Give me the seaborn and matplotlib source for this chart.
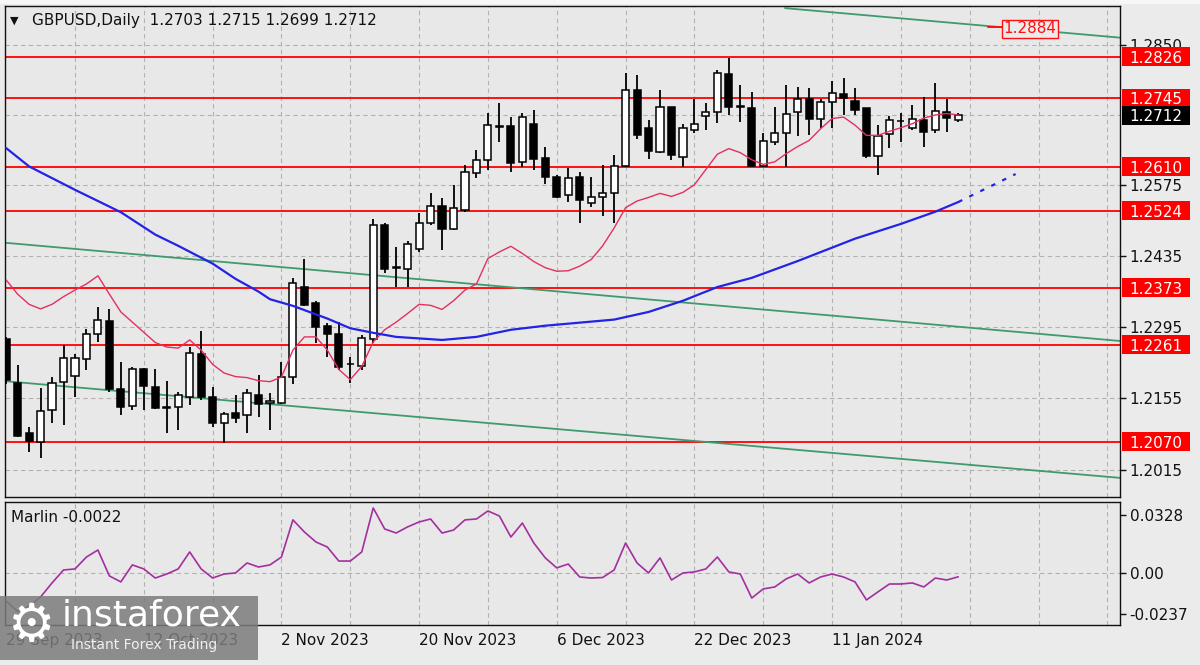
import matplotlib
matplotlib.use("Agg")
import matplotlib.pyplot as plt
import matplotlib.transforms as mtransforms
from matplotlib.patches import Rectangle
import numpy as np
import pandas as pd
import seaborn as sns

sns.set_style("white")
plt.rcParams["font.family"] = ["DejaVu Sans"]

# ---------------- data ----------------
open_ = [1.2272, 1.2185, 1.2087, 1.2069, 1.2132, 1.2187, 1.2199, 1.2233, 1.2282, 1.2307,
         1.2174, 1.2140, 1.2213, 1.2178, 1.2138, 1.2138, 1.2158, 1.2242, 1.2158, 1.2107,
         1.2126, 1.2123, 1.2162, 1.2146, 1.2146, 1.2197, 1.2374, 1.2343, 1.2297, 1.2282,
         1.2223, 1.2219, 1.2272, 1.2496, 1.2413, 1.2409, 1.2449, 1.2500, 1.2533, 1.2488,
         1.2525, 1.2598, 1.2624, 1.2690, 1.2690, 1.2620, 1.2694, 1.2628, 1.2590, 1.2555,
         1.2590, 1.2539, 1.2551, 1.2559, 1.2612, 1.2761, 1.2686, 1.2639, 1.2728, 1.2629,
         1.2683, 1.2710, 1.2718, 1.2793, 1.2730, 1.2726, 1.2612, 1.2659, 1.2677, 1.2718,
         1.2743, 1.2704, 1.2738, 1.2753, 1.2740, 1.2726, 1.2631, 1.2675, 1.2700, 1.2686,
         1.2702, 1.2683, 1.2718, 1.2703]
high = [1.2276, 1.2221, 1.2099, 1.2176, 1.2197, 1.2260, 1.2242, 1.2292, 1.2335, 1.2331,
        1.2227, 1.2217, 1.2215, 1.2213, 1.2189, 1.2168, 1.2256, 1.2288, 1.2178, 1.2128,
        1.2162, 1.2174, 1.2201, 1.2166, 1.2227, 1.2392, 1.2429, 1.2347, 1.2303, 1.2305,
        1.2236, 1.2280, 1.2508, 1.2500, 1.2453, 1.2464, 1.2519, 1.2559, 1.2549, 1.2574,
        1.2614, 1.2643, 1.2716, 1.2736, 1.2708, 1.2716, 1.2722, 1.2649, 1.2594, 1.2608,
        1.2600, 1.2590, 1.2614, 1.2633, 1.2795, 1.2791, 1.2702, 1.2761, 1.2728, 1.2694,
        1.2743, 1.2736, 1.2800, 1.2824, 1.2771, 1.2757, 1.2677, 1.2728, 1.2771, 1.2767,
        1.2765, 1.2743, 1.2779, 1.2785, 1.2765, 1.2726, 1.2692, 1.2710, 1.2716, 1.2732,
        1.2747, 1.2775, 1.2743, 1.2715]
low = [1.2183, 1.2079, 1.2050, 1.2038, 1.2107, 1.2103, 1.2158, 1.2211, 1.2266, 1.2168,
       1.2123, 1.2132, 1.2132, 1.2134, 1.2087, 1.2093, 1.2142, 1.2152, 1.2099, 1.2068,
       1.2107, 1.2087, 1.2119, 1.2093, 1.2144, 1.2183, 1.2337, 1.2264, 1.2236, 1.2211,
       1.2185, 1.2211, 1.2264, 1.2402, 1.2374, 1.2374, 1.2443, 1.2496, 1.2447, 1.2486,
       1.2521, 1.2588, 1.2604, 1.2659, 1.2600, 1.2610, 1.2604, 1.2576, 1.2549, 1.2541,
       1.2500, 1.2531, 1.2514, 1.2500, 1.2610, 1.2665, 1.2626, 1.2637, 1.2624, 1.2610,
       1.2677, 1.2683, 1.2696, 1.2712, 1.2698, 1.2610, 1.2610, 1.2653, 1.2610, 1.2671,
       1.2673, 1.2686, 1.2686, 1.2712, 1.2712, 1.2628, 1.2594, 1.2647, 1.2659, 1.2683,
       1.2649, 1.2677, 1.2679, 1.2699]
close = [1.2191, 1.2081, 1.2071, 1.2130, 1.2185, 1.2235, 1.2235, 1.2282, 1.2309, 1.2174,
         1.2138, 1.2213, 1.2180, 1.2136, 1.2137, 1.2162, 1.2244, 1.2158, 1.2107, 1.2124,
         1.2117, 1.2166, 1.2144, 1.2150, 1.2197, 1.2382, 1.2339, 1.2295, 1.2282, 1.2217,
         1.2222, 1.2274, 1.2496, 1.2409, 1.2411, 1.2459, 1.2500, 1.2533, 1.2488, 1.2529,
         1.2600, 1.2624, 1.2692, 1.2688, 1.2618, 1.2708, 1.2626, 1.2590, 1.2551, 1.2588,
         1.2545, 1.2551, 1.2559, 1.2612, 1.2761, 1.2673, 1.2641, 1.2728, 1.2633, 1.2686,
         1.2694, 1.2718, 1.2795, 1.2728, 1.2728, 1.2612, 1.2661, 1.2677, 1.2714, 1.2743,
         1.2704, 1.2738, 1.2755, 1.2745, 1.2722, 1.2631, 1.2671, 1.2702, 1.2701, 1.2704,
         1.2679, 1.2720, 1.2706, 1.2712]

# short moving average (pink), one value per bar
pink_ma = [1.2388, 1.2360, 1.2340, 1.2331, 1.2340, 1.2355, 1.2368, 1.2380, 1.2396, 1.2360,
           1.2325, 1.2305, 1.2285, 1.2265, 1.2256, 1.2254, 1.2270, 1.2250, 1.2222, 1.2205,
           1.2198, 1.2196, 1.2190, 1.2188, 1.2197, 1.2250, 1.2276, 1.2276, 1.2250, 1.2212,
           1.2192, 1.2218, 1.2266, 1.2290, 1.2305, 1.2322, 1.2340, 1.2338, 1.2330, 1.2347,
           1.2368, 1.2380, 1.2430, 1.2443, 1.2454, 1.2440, 1.2424, 1.2412, 1.2405, 1.2406,
           1.2415, 1.2428, 1.2455, 1.2490, 1.2530, 1.2543, 1.2550, 1.2558, 1.2552, 1.2560,
           1.2575, 1.2605, 1.2635, 1.2646, 1.2638, 1.2624, 1.2615, 1.2620, 1.2636, 1.2650,
           1.2662, 1.2685, 1.2705, 1.2708, 1.2692, 1.2672, 1.2672, 1.2680, 1.2687, 1.2695,
           1.2706, 1.2712, 1.2715, 1.2712]

# long moving average (blue), read at selected bars
blue_bar = [0, 2, 6, 10, 13, 15, 18, 20, 22, 23, 25, 28, 30, 32, 34, 38, 41, 44, 47, 53,
            56, 59, 62, 65, 69, 74, 78, 81, 83]
blue_ma = [1.2647, 1.2611, 1.2565, 1.2521, 1.2477, 1.2455, 1.2420, 1.2390, 1.2365, 1.2350,
           1.2337, 1.2312, 1.2293, 1.2284, 1.2276, 1.2270, 1.2276, 1.2290, 1.2298, 1.2310,
           1.2325, 1.2347, 1.2374, 1.2392, 1.2425, 1.2469, 1.2498, 1.2522, 1.2541]
blue_proj_bar = [83, 88]
blue_proj = [1.2541, 1.2596]

# Marlin oscillator, one value per bar
marlin = [-0.0160, -0.0220, -0.0190, -0.0137, -0.0057, 0.0017, 0.0023, 0.0091, 0.0131, -0.0017,
          -0.0051, 0.0046, 0.0023, -0.0029, -0.0006, 0.0023, 0.0120, 0.0023, -0.0029, -0.0006,
          0.0000, 0.0057, 0.0034, 0.0046, 0.0091, 0.0303, 0.0234, 0.0177, 0.0148, 0.0068,
          0.0068, 0.0120, 0.0371, 0.0251, 0.0228, 0.0263, 0.0291, 0.0308, 0.0228, 0.0245,
          0.0303, 0.0308, 0.0354, 0.0325, 0.0205, 0.0285, 0.0171, 0.0086, 0.0029, 0.0051,
          -0.0023, -0.0029, -0.0026, 0.0017, 0.0171, 0.0057, 0.0000, 0.0086, -0.0040, 0.0000,
          0.0006, 0.0023, 0.0091, 0.0006, -0.0006, -0.0143, -0.0091, -0.0080, -0.0034, -0.0006,
          -0.0057, -0.0023, -0.0006, -0.0023, -0.0051, -0.0154, -0.0108, -0.0063, -0.0063, -0.0057,
          -0.0080, -0.0029, -0.0040, -0.0022]

# horizontal levels and trend channel (two points each: bar, price)
levels = [1.2826, 1.2745, 1.2610, 1.2524, 1.2373, 1.2261, 1.2070]
current_price = 1.2712
alert_price = 1.2884
trend_upper = ([67.9, 97.1], [1.2922, 1.2864])
trend_mid = ([-0.1, 97.1], [1.2461, 1.2268])
trend_low = ([-0.1, 97.1], [1.2189, 1.1999])

price_ticks = [1.2850, 1.2575, 1.2435, 1.2295, 1.2155, 1.2015]
hidden_grid = [1.2713]
marlin_ticks = [0.0328, 0.0, -0.0237]
marlin_tick_labels = ["0.0328", "0.00", "-0.0237"]
date_bars = [0, 12, 24, 36, 48, 60, 72]
date_labels = ["29 Sep 2023", "12 Oct 2023", "2 Nov 2023", "20 Nov 2023",
               "6 Dec 2023", "22 Dec 2023", "11 Jan 2024"]
title = "GBPUSD,Daily  1.2703 1.2715 1.2699 1.2712"
marlin_title = "Marlin -0.0022"

# ---------------- figure ----------------
W, H = 1200, 665
fig = plt.figure(figsize=(W / 100, H / 100), dpi=100, facecolor="#ebebeb")


def frac(x0, y0, x1, y1):
    return [x0 / W, 1 - y1 / H, (x1 - x0) / W, (y1 - y0) / H]


ax = fig.add_axes(frac(5, 6, 1120, 497))
axm = fig.add_axes(frac(5, 502, 1120, 625), sharex=ax)

XLIM = (-0.1, 97.1)
YLIM = (1.19614, 1.29262)
MLIM = (-0.0297, 0.0405)

for a in (ax, axm):
    a.set_facecolor("#e8e8e8")
    for s in a.spines.values():
        s.set_color("#111111")
        s.set_linewidth(1.0)

grid_kw = dict(color="#b2b2b2", lw=0.8, ls=(0, (4, 3)), zorder=0.5)
for v in range(6, 97, 6):
    ax.axvline(v, **grid_kw)
    axm.axvline(v, **grid_kw)
for t in price_ticks + hidden_grid:
    ax.axhline(t, **grid_kw)
axm.axhline(0.0, **grid_kw)

# red support/resistance levels
for lv in levels:
    ax.axhline(lv, color="#ff1010", lw=1.4, zorder=1.5)

# trend channel
for xs, ys in (trend_upper, trend_mid, trend_low):
    sns.lineplot(x=xs, y=ys, ax=ax, color="#3f9a6e", lw=1.3, zorder=1.8)

# candles
df = pd.DataFrame(dict(o=open_, h=high, l=low, c=close))
df["i"] = np.arange(len(df))
up = df.c >= df.o
ax.vlines(df.i, df.l, df.h, color="black", lw=1.3, zorder=3)
body_lo = np.minimum(df.o, df.c)
body_h = np.maximum((df.c - df.o).abs(), 0.00004)
ax.bar(df.i, body_h, bottom=body_lo, width=0.62,
       color=np.where(up, "white", "black"), edgecolor="black", linewidth=1.1, zorder=4)

# moving averages
sns.lineplot(x=np.arange(len(pink_ma)), y=pink_ma, ax=ax, color="#e3305f", lw=1.0, zorder=5)
sns.lineplot(x=blue_bar, y=blue_ma, ax=ax, color="#2323e6", lw=1.6, zorder=5)
ax.plot(blue_proj_bar, blue_proj, color="#2323e6", lw=1.6, ls=(0, (2, 3.5)), zorder=5)

# alert price label
ax.plot([85.6, 86.9], [alert_price, alert_price], color="#ff1010", lw=1.4, zorder=6)
ax.text(86.95, alert_price, f"{alert_price:.4f}", color="#ff1010", fontsize=11,
        va="center_baseline", ha="left", zorder=7,
        bbox=dict(boxstyle="square,pad=0.12", fc="#ebebeb", ec="#ff1010", lw=1.0))

# Marlin
sns.lineplot(x=np.arange(len(marlin)), y=marlin, ax=axm, color="#a2309e", lw=1.2, zorder=4)

# limits
ax.set_xlim(*XLIM)
ax.set_ylim(*YLIM)
axm.set_ylim(*MLIM)
for a in (ax, axm):
    a.set_xlabel("")
    a.set_ylabel("")

# ticks
ax.yaxis.tick_right()
ax.set_yticks(price_ticks)
ax.set_yticklabels([f"{t:.4f}" for t in price_ticks])
ax.tick_params(axis="y", direction="out", length=4, width=1, pad=3, labelsize=11,
               colors="#111111")
ax.tick_params(axis="x", bottom=False, labelbottom=False, top=False)

axm.yaxis.tick_right()
axm.set_yticks(marlin_ticks)
axm.set_yticklabels(marlin_tick_labels)
axm.tick_params(axis="y", direction="out", length=4, width=1, pad=3, labelsize=11,
                colors="#111111")
axm.set_xticks(date_bars)
axm.set_xticklabels(date_labels, ha="left")
axm.tick_params(axis="x", direction="out", length=4, width=1, pad=1.5, labelsize=11,
                colors="#111111")
ax.tick_params(axis="x", bottom=False, labelbottom=False)

# right-side price boxes
bt = mtransforms.blended_transform_factory(ax.transAxes, ax.transData)
ax_h_px = 497 - 6
box_h = 19 * (YLIM[1] - YLIM[0]) / ax_h_px
bx0 = (1122 - 5) / 1115
bw = 68 / 1115
for lv, col in [(v, "#ff0000") for v in levels] + [(current_price, "#000000")]:
    ax.add_patch(Rectangle((bx0, lv - box_h / 2), bw, box_h, transform=bt, fc=col,
                           ec="none", clip_on=False, zorder=8))
    ax.text(bx0 + bw / 2, lv, f"{lv:.4f}", transform=bt, color="white", ha="center",
            va="center_baseline", fontsize=11, zorder=9, clip_on=False)

# titles
fig.text(10 / W, 1 - 21 / H, "\u25bc", fontsize=8, va="center", ha="left", color="#111111")
fig.text(32 / W, 1 - 21 / H, title, fontsize=11, va="center", ha="left", color="#111111")
fig.text(11 / W, 1 - 518 / H, marlin_title, fontsize=11, va="center", ha="left",
         color="#111111")

# top white strip
fig.add_artist(Rectangle((0, 1 - 4 / H), 1, 4 / H, transform=fig.transFigure,
                         fc="#f7f7f7", ec="none", zorder=-1))

# watermark
fig.add_artist(Rectangle((0, 1 - 660 / H), 258 / W, 64 / H, transform=fig.transFigure,
                         fc="#7c7c7c", ec="none", alpha=0.85, zorder=10))
fig.text(8 / W, 1 - 626 / H, "\u2699", fontsize=38, color="white", va="center",
         ha="left", zorder=11)
fig.text(62 / W, 1 - 615 / H, "instaforex", fontsize=26, color="white", va="center",
         ha="left", zorder=11)
fig.text(71 / W, 1 - 645 / H, "Instant Forex Trading", fontsize=10, color="#f0f0f0",
         va="center", ha="left", zorder=11)

fig.savefig("out.png", dpi=100, facecolor=fig.get_facecolor())
